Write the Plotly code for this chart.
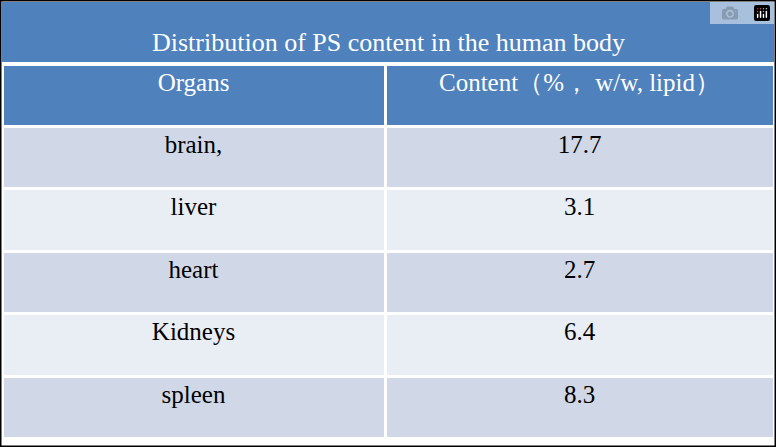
import plotly.graph_objects as go

title = "Distribution of PS content in the human body"
headers = ["Organs", "Content（%， w/w, lipid）"]
organs = ["brain,", "liver", "heart", "Kidneys", "spleen"]
content = ["17.7", "3.1", "2.7", "6.4", "8.3"]

W, H = 776, 447
blue = "#4F81BD"
row_fills = ["#D0D8E8", "#E9EDF4", "#D0D8E8", "#E9EDF4", "#D0D8E8"]
font = "Liberation Serif"

fig = go.Figure(go.Table(
    domain=dict(x=[2 / W, 1 - 2 / W], y=[0, 1 - 64 / H]),
    columnwidth=[383, 389],
    header=dict(values=headers, fill_color=blue, height=62, align="center",
                line=dict(color="white", width=3),
                font=dict(family=font, size=25, color="white")),
    cells=dict(values=[organs, content], fill_color=[row_fills, row_fills], height=62.5,
               align="center", line=dict(color="white", width=3),
               font=dict(family=font, size=25, color="black")),
))
fig.add_shape(type="rect", xref="paper", yref="paper", x0=2 / W, x1=1 - 2 / W,
              y0=1 - 62 / H, y1=1 - 2 / H, fillcolor=blue, line=dict(width=0), layer="below")
fig.add_annotation(text=title, xref="paper", yref="paper", x=0.5, y=1 - 26 / H,
                   showarrow=False, font=dict(family=font, size=26, color="white"))
fig.add_shape(type="rect", xref="paper", yref="paper", x0=0.5 / W, x1=1 - 0.5 / W,
              y0=0.5 / H, y1=1 - 0.5 / H, line=dict(color="black", width=2))
fig.update_layout(width=W, height=H, margin=dict(l=0, r=0, t=0, b=0),
                  paper_bgcolor="white", plot_bgcolor="white")
fig.write_html("out.html", post_script="document.body.style.margin='0';document.body.style.overflow='hidden';")
